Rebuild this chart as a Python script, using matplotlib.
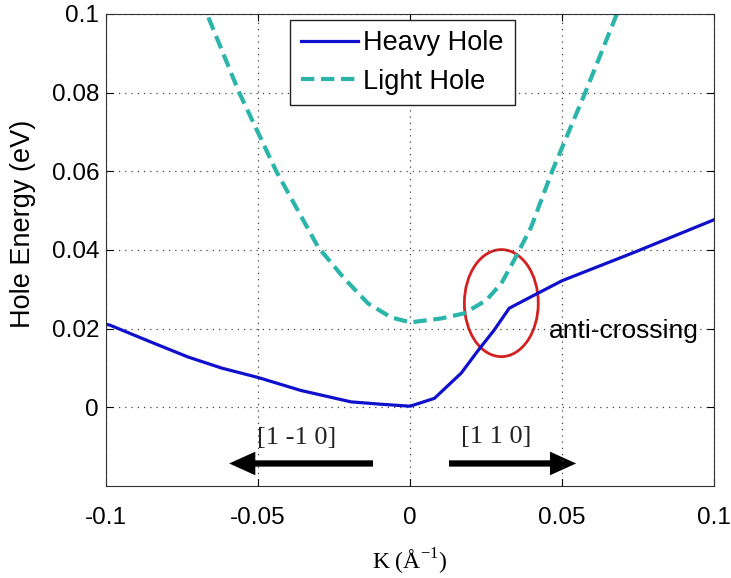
import numpy as np
import matplotlib.pyplot as plt
from matplotlib.patches import Ellipse

# heavy hole band, k in 1/Angstrom, energy in eV
hh_k = [-0.1, -0.0987, -0.0852, -0.073, -0.062, -0.05, -0.0359, -0.0194, -0.0095, 0.0,
        0.008, 0.0168, 0.0224, 0.0276, 0.0326, 0.041, 0.05, 0.0737, 0.1]
hh_e = [0.0211, 0.0209, 0.0166, 0.0128, 0.0100, 0.0076, 0.0043, 0.0014, 0.0008, 0.0003,
        0.0023, 0.0087, 0.0145, 0.0196, 0.0252, 0.0286, 0.0322, 0.0394, 0.0477]

# light hole band
lh_k = [-0.070, -0.0668, -0.0562, -0.044, -0.0303, -0.0217, -0.0138, -0.0063, 0.0,
        0.0102, 0.0178, 0.025, 0.030, 0.0342, 0.0398, 0.0467, 0.0576, 0.068, 0.071]
lh_e = [0.106, 0.1, 0.08, 0.06, 0.0408, 0.0328, 0.0264, 0.0229, 0.0216,
        0.0226, 0.0239, 0.0272, 0.0315, 0.0374, 0.0458, 0.06, 0.08, 0.1, 0.106]

xticks = [-0.1, -0.05, 0, 0.05, 0.1]
xtick_labels = ['-0.1', '-0.05', '0', '0.05', '0.1']
yticks = [0, 0.02, 0.04, 0.06, 0.08, 0.1]
ytick_labels = ['0', '0.02', '0.04', '0.06', '0.08', '0.1']

plt.rcParams['font.family'] = ['Liberation Sans', 'DejaVu Sans']

fig = plt.figure(figsize=(7.31, 5.78), dpi=100)
ax = fig.add_axes([0.145, 0.159, 0.832, 0.817])

ax.plot(hh_k, hh_e, color='#1010cc', lw=2.3, label='Heavy Hole')
ax.plot(lh_k, lh_e, color='#2bb5aa', lw=3.0, ls=(0, (3.2, 1.6)), label='Light Hole')

ax.set_xlim(-0.1, 0.1)
ax.set_ylim(-0.02, 0.1)
ax.set_xticks(xticks)
ax.set_xticklabels(xtick_labels, fontsize=17.5)
ax.set_yticks(yticks)
ax.set_yticklabels(ytick_labels, fontsize=17.5)
ax.tick_params(axis='x', direction='in', top=True, length=5, pad=15)
ax.tick_params(axis='y', direction='in', right=True, length=5, pad=5)
ax.grid(True, ls=(0, (1, 4)), color='#444444', lw=0.9)
for s in ax.spines.values():
    s.set_color('#333333')

ax.set_ylabel('Hole Energy (eV)', fontsize=19.5)
ax.yaxis.set_label_coords(-0.115, 0.555)
ax.set_xlabel(r'K (Å$^{\mathregular{-1}}$)', fontsize=17, family='Liberation Serif')
ax.xaxis.set_label_coords(0.5, -0.128)

leg = ax.legend(loc='upper left', bbox_to_anchor=(0.303, 0.988), borderaxespad=0,
                fontsize=19.5, fancybox=False, framealpha=1, edgecolor='#222222',
                handlelength=2.1, handletextpad=0.2, borderpad=0.4, labelspacing=0.45)
leg.get_frame().set_linewidth(1.0)

# anti-crossing marker
ax.add_patch(Ellipse((0.030, 0.0265), 0.0243, 0.0272, fill=False,
                     edgecolor='#d42020', lw=2.0))
ax.text(0.0457, 0.0193, 'anti-crossing', fontsize=19, va='center', ha='left')

# direction arrows (horizontal, so width is in energy units, head length in k units)
arrow = dict(width=0.0016, head_width=0.0060, head_length=0.0086,
             length_includes_head=True, color='black', lw=0)
ax.arrow(-0.0122, -0.01425, -0.0473, 0, **arrow)
ax.arrow(0.0128, -0.01425, 0.0418, 0, **arrow)
ax.text(-0.0505, -0.0079, '[1 -1 0]', fontsize=19, family='Liberation Serif',
        va='center', ha='left', color='#222222')
ax.text(0.0168, -0.0074, '[1 1 0]', fontsize=19, family='Liberation Serif',
        va='center', ha='left', color='#222222')

fig.savefig('out.png', dpi=100)
